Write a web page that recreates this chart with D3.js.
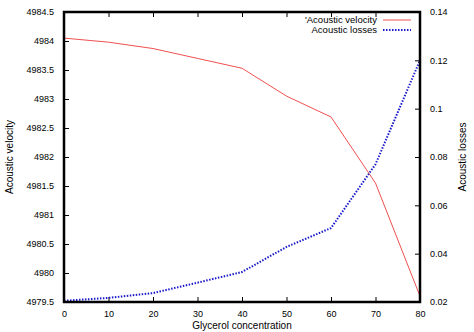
<!DOCTYPE html>
<html>
<head>
<meta charset="utf-8">
<script src="https://cdn.jsdelivr.net/npm/d3@7"></script>
<style>
  body { margin: 0; background: #fff; }
  svg { display: block; font-family: "Liberation Sans", Arial, sans-serif; }
</style>
</head>
<body>
<svg id="chart" width="474" height="332"></svg>
<script>
// glycerol concentration (x)
const concentration = [0, 10, 20, 30, 40, 50, 60, 70, 80];
// acoustic velocity (left axis)
const velocity = [4984.05, 4983.98, 4983.87, 4983.7, 4983.53, 4983.05, 4982.69, 4981.55, 4979.6];
// acoustic losses (right axis)
const losses = [0.0205, 0.0217, 0.0237, 0.028, 0.0324, 0.0428, 0.0506, 0.077, 0.12];

const xTicks = [0, 10, 20, 30, 40, 50, 60, 70, 80];
const yTicks = [4979.5, 4980, 4980.5, 4981, 4981.5, 4982, 4982.5, 4983, 4983.5, 4984, 4984.5];
const y2Ticks = [0.02, 0.04, 0.06, 0.08, 0.1, 0.12, 0.14];

const svg = d3.select('#chart');
const margin = { top: 12, right: 54, bottom: 30, left: 64 };
const width = 474 - margin.left - margin.right;
const height = 332 - margin.top - margin.bottom;

const g = svg.append('g').attr('transform', `translate(${margin.left},${margin.top})`);

const x = d3.scaleLinear().domain([0, 80]).range([0, width]);
const y = d3.scaleLinear().domain([4979.5, 4984.5]).range([height, 0]);
const y2 = d3.scaleLinear().domain([0.02, 0.14]).range([height, 0]);

// axes (ticks pointing inward, gnuplot style)
const styleAxis = sel => {
  sel.select('.domain').remove();
  sel.selectAll('line').attr('stroke', '#000');
  sel.selectAll('text').attr('font-size', 9).attr('fill', '#000');
};

g.append('g')
  .attr('transform', `translate(0,${height})`)
  .call(d3.axisBottom(x).tickValues(xTicks).tickSize(-5).tickPadding(9))
  .call(styleAxis);

g.append('g')
  .call(d3.axisTop(x).tickValues(xTicks).tickSize(-5).tickFormat(''))
  .call(styleAxis);

g.append('g')
  .call(d3.axisLeft(y).tickValues(yTicks).tickSize(-5).tickPadding(10).tickFormat(d3.format('')))
  .call(styleAxis);

g.append('g')
  .attr('transform', `translate(${width},0)`)
  .call(d3.axisRight(y2).tickValues(y2Ticks).tickSize(-5).tickPadding(10).tickFormat(d3.format('')))
  .call(styleAxis);

// series
const velLine = d3.line().x((d, i) => x(concentration[i])).y(d => y(d));
const lossLine = d3.line().x((d, i) => x(concentration[i])).y(d => y2(d));

g.append('path')
  .datum(velocity)
  .attr('fill', 'none')
  .attr('stroke', '#f05050')
  .attr('stroke-width', 1)
  .attr('d', velLine);

g.append('path')
  .datum(losses)
  .attr('fill', 'none')
  .attr('stroke', '#1a1acc')
  .attr('stroke-width', 2)
  .attr('stroke-dasharray', '1.5,1.5')
  .attr('d', lossLine);

// frame
g.append('rect')
  .attr('width', width)
  .attr('height', height)
  .attr('fill', 'none')
  .attr('stroke', '#000')
  .attr('stroke-width', 2.5);

// legend
const legend = g.append('g').attr('transform', `translate(${width - 43},0)`);
const items = [
  { label: "'Acoustic velocity", color: '#f05050', w: 1, dash: null },
  { label: 'Acoustic losses', color: '#1a1acc', w: 2, dash: '1.5,1.5' }
];
items.forEach((it, i) => {
  const yy = 8 + i * 10;
  legend.append('text')
    .attr('x', 0).attr('y', yy + 3.3)
    .attr('text-anchor', 'end')
    .attr('font-size', 9.5)
    .text(it.label);
  legend.append('line')
    .attr('x1', 6).attr('x2', 34).attr('y1', yy).attr('y2', yy)
    .attr('stroke', it.color)
    .attr('stroke-width', it.w)
    .attr('stroke-dasharray', it.dash);
});

// axis titles
svg.append('text')
  .attr('transform', `translate(13,${margin.top + height / 2}) rotate(-90)`)
  .attr('text-anchor', 'middle')
  .attr('font-size', 10)
  .text('Acoustic velocity');

svg.append('text')
  .attr('transform', `translate(466,${margin.top + height / 2}) rotate(-90)`)
  .attr('text-anchor', 'middle')
  .attr('font-size', 10)
  .text('Acoustic losses');

svg.append('text')
  .attr('x', margin.left + width / 2)
  .attr('y', 329)
  .attr('text-anchor', 'middle')
  .attr('font-size', 10)
  .text('Glycerol concentration');
</script>
</body>
</html>
